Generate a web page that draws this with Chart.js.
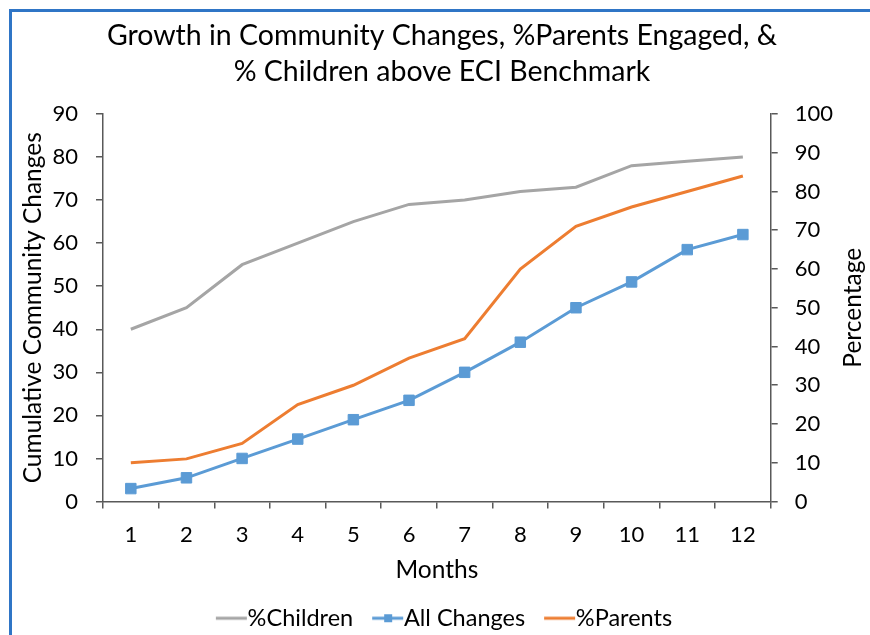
<!DOCTYPE html>
<html>
<head>
<meta charset="utf-8">
<script src="https://cdn.jsdelivr.net/npm/chart.js@4.4.1/dist/chart.umd.min.js"></script>
<style>
  html, body { margin: 0; padding: 0; background: #fff; }
  #wrap { position: relative; width: 870px; height: 635px; overflow: hidden; }
  #c { position: absolute; left: 0; top: 0; }
  .bl { position: absolute; left: 9px; top: 9px; width: 3px; height: 626px; background: #2F75C6; }
  .bt { position: absolute; left: 9px; top: 9px; width: 861px; height: 3px; background: #2F75C6; }
</style>
</head>
<body>
<div id="wrap">
  <canvas id="c" width="870" height="640"></canvas>
  <div class="bl"></div>
  <div class="bt"></div>
</div>
<script>
const months = ['1','2','3','4','5','6','7','8','9','10','11','12'];
const childrenPct = [40, 45, 55, 60, 65, 69, 70, 72, 73, 78, 79, 80];
const allChanges = [3, 5.5, 10, 14.5, 19, 23.5, 30, 37, 45, 51, 58.5, 62];
const parentsPct = [10, 11, 15, 25, 30, 37, 42, 60, 71, 76, 80, 84];
const leftTicks = [0, 10, 20, 30, 40, 50, 60, 70, 80, 90];
const rightTicks = [0, 10, 20, 30, 40, 50, 60, 70, 80, 90, 100];

const FONT = 'Lato';
const GRAY = '#A5A5A5', BLUE = '#5B9BD5', ORANGE = '#ED7D31';
const AXIS = '#595959';

function legendImg(color, marker) {
  const cv = document.createElement('canvas');
  cv.width = 60; cv.height = 12;
  const g = cv.getContext('2d');
  g.strokeStyle = color; g.lineWidth = 3;
  g.beginPath(); g.moveTo(22, 6); g.lineTo(53, 6); g.stroke();
  if (marker) { g.fillStyle = color; g.fillRect(34, 2, 8, 8); }
  return cv;
}

const rightTitle = {
  id: 'rightTitle',
  afterDraw(chart) {
    const {ctx, chartArea} = chart;
    ctx.save();
    ctx.translate(853, (chartArea.top + chartArea.bottom) / 2);
    ctx.rotate(-Math.PI / 2);
    ctx.font = '24.5px ' + FONT;
    ctx.fillStyle = '#000';
    ctx.textAlign = 'center';
    ctx.textBaseline = 'middle';
    ctx.fillText('Percentage', 0, 0);
    ctx.restore();
  }
};

new Chart(document.getElementById('c'), {
  type: 'line',
  data: {
    labels: months,
    datasets: [
      { label: '%Children', data: childrenPct, yAxisID: 'y', borderColor: GRAY, backgroundColor: GRAY,
        borderWidth: 3, pointRadius: 0, pointHoverRadius: 0, tension: 0 },
      { label: 'All Changes', data: allChanges, yAxisID: 'y', borderColor: BLUE, backgroundColor: BLUE,
        borderWidth: 3, pointStyle: 'rect', pointRadius: 7.4, pointBorderWidth: 1, tension: 0 },
      { label: '%Parents', data: parentsPct, yAxisID: 'y1', borderColor: ORANGE, backgroundColor: ORANGE,
        borderWidth: 3, pointRadius: 0, pointHoverRadius: 0, tension: 0 }
    ]
  },
  options: {
    responsive: false,
    animation: false,
    events: [],
    layout: { padding: { left: 14, right: 0, top: 12, bottom: 0 } },
    plugins: {
      title: {
        display: true,
        text: ['Growth in Community Changes, %Parents Engaged, &', '% Children above ECI Benchmark'],
        color: '#000',
        font: { family: FONT, size: 28.5, weight: 'normal', lineHeight: 1.263 },
        padding: { top: 5.5, bottom: 24.5 }
      },
      legend: {
        position: 'bottom',
        labels: {
          color: '#000',
          font: { family: FONT, size: 23.5 },
          usePointStyle: true,
          pointStyleWidth: 24,
          padding: 15,
          generateLabels(chart) {
            return chart.data.datasets.map((ds, i) => ({
              text: ds.label,
              pointStyle: legendImg(ds.borderColor, i === 1),
              fillStyle: ds.borderColor,
              strokeStyle: ds.borderColor,
              lineWidth: 0,
              datasetIndex: i,
              hidden: false,
              fontColor: '#000'
            }));
          }
        }
      },
      tooltip: { enabled: false }
    },
    scales: {
      x: {
        type: 'category',
        offset: true,
        afterFit(scale) { scale.height = 90; },
        grid: { offset: true, drawOnChartArea: false, drawTicks: true, tickLength: 7, color: AXIS, lineWidth: 1.5 },
        border: { display: true, color: AXIS, width: 1.5 },
        ticks: { color: '#000', font: { family: FONT, size: 22 }, padding: 13, maxRotation: 0 },
        title: { display: true, text: 'Months', color: '#000', font: { family: FONT, size: 24.5 }, padding: { top: 4, bottom: 6.8 } }
      },
      y: {
        position: 'left',
        min: 0, max: 90,
        afterBuildTicks(scale) { scale.ticks = leftTicks.map(v => ({ value: v })); },
        afterFit(scale) { scale.width = 89; },
        grid: { drawOnChartArea: false, drawTicks: true, tickLength: 7, color: AXIS, lineWidth: 1.5 },
        border: { display: true, color: AXIS, width: 1.5 },
        ticks: { color: '#000', font: { family: FONT, size: 22 }, padding: 18 },
        title: { display: true, text: 'Cumulative Community Changes', color: '#000',
                 font: { family: FONT, size: 24.5 }, padding: { top: 4.5, bottom: 0 } }
      },
      y1: {
        position: 'right',
        min: 0, max: 100,
        afterBuildTicks(scale) { scale.ticks = rightTicks.map(v => ({ value: v })); },
        afterFit(scale) { scale.width = 99.3; },
        grid: { drawOnChartArea: false, drawTicks: true, tickLength: 7, color: AXIS, lineWidth: 1.5 },
        border: { display: true, color: AXIS, width: 1.5 },
        ticks: { color: '#000', font: { family: FONT, size: 22 }, padding: 17 }
      }
    }
  },
  plugins: [rightTitle]
});
</script>
</body>
</html>
